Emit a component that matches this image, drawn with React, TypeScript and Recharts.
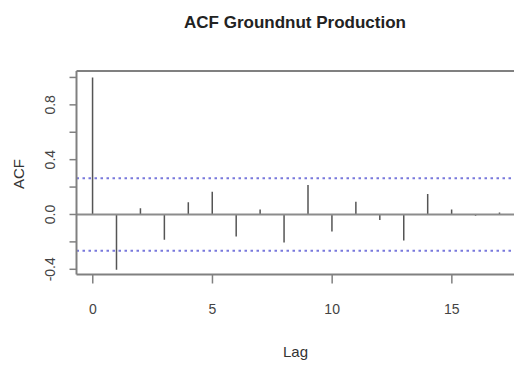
import React from "react";
import { ComposedChart, Bar, XAxis, YAxis, ReferenceLine } from "recharts";

const lags = [0, 1, 2, 3, 4, 5, 6, 7, 8, 9, 10, 11, 12, 13, 14, 15, 16, 17];
const acfValues = [1.0, -0.404, 0.045, -0.185, 0.089, 0.165, -0.161, 0.036, -0.205, 0.215, -0.125, 0.093, -0.04, -0.19, 0.149, 0.036, -0.01, 0.015];
const ciBound = 0.265;
const xTicks = [0, 5, 10, 15];
const yTicks = [-0.4, -0.2, 0, 0.2, 0.4, 0.6, 0.8, 1.0];
const yLabelTicks = [-0.4, 0, 0.4, 0.8];
const xDomain = [-0.68, 17.68];
const yDomain = [-0.438, 1.047];

const data = lags.map((lag, i) => ({ lag, acf: acfValues[i] }));

const FONT = '"Liberation Sans", Arial, Helvetica, sans-serif';
const BORDER = "#808080";

const YTick = (props: any) => {
  const { y, payload } = props;
  const v = payload.value;
  const show = yLabelTicks.some((t) => Math.abs(t - v) < 1e-6);
  if (!show) return <g />;
  const x = 50;
  return (
    <text
      x={x}
      y={y}
      transform={`rotate(-90, ${x}, ${y})`}
      textAnchor="middle"
      dominantBaseline="central"
      fontFamily={FONT}
      fontSize={14}
      fill="#444"
    >
      {v.toFixed(1)}
    </text>
  );
};

const XTick = (props: any) => {
  const { x, payload } = props;
  return (
    <text
      x={x}
      y={309}
      textAnchor="middle"
      dominantBaseline="central"
      fontFamily={FONT}
      fontSize={14}
      fill="#444"
    >
      {payload.value}
    </text>
  );
};

export default function App() {
  return (
    <div
      style={{
        position: "absolute",
        left: 0,
        top: 0,
        width: 514,
        height: 367,
        overflow: "hidden",
        background: "#fff",
        fontFamily: FONT,
      }}
    >
      <ComposedChart
        width={516}
        height={367}
        data={data}
        margin={{ top: 71, right: 0, bottom: 52.5, left: 0 }}
      >
        <XAxis
          dataKey="lag"
          type="number"
          domain={xDomain}
          ticks={xTicks}
          interval={0}
          allowDataOverflow
          tickSize={9}
          height={40}
          stroke={BORDER}
          axisLine={{ stroke: BORDER, strokeWidth: 2 }}
          tickLine={{ stroke: BORDER, strokeWidth: 1.5 }}
          tick={<XTick />}
        />
        <YAxis
          type="number"
          domain={yDomain}
          ticks={yTicks}
          interval={0}
          allowDataOverflow
          width={76.5}
          tickSize={7}
          stroke={BORDER}
          axisLine={{ stroke: BORDER, strokeWidth: 2 }}
          tickLine={{ stroke: BORDER, strokeWidth: 1.5 }}
          tick={<YTick />}
        />
        <ReferenceLine y={yDomain[1]} stroke={BORDER} strokeWidth={2} />
        <ReferenceLine y={0} stroke="#8c8c8c" strokeWidth={2} />
        <ReferenceLine y={ciBound} stroke="#7878dc" strokeWidth={2} strokeDasharray="2.5 3.5" />
        <ReferenceLine y={-ciBound} stroke="#7878dc" strokeWidth={2} strokeDasharray="2.5 3.5" />
        <Bar dataKey="acf" barSize={1.5} fill="#555" isAnimationActive={false} />
      </ComposedChart>
      <div
        style={{
          position: "absolute",
          left: 95,
          width: 400,
          top: 12,
          textAlign: "center",
          fontWeight: "bold",
          fontSize: 17,
          lineHeight: "21px",
          color: "#222",
        }}
      >
        ACF Groundnut Production
      </div>
      <div
        style={{
          position: "absolute",
          left: 195.5,
          width: 200,
          top: 342,
          textAlign: "center",
          fontSize: 15,
          lineHeight: "20px",
          color: "#333",
        }}
      >
        Lag
      </div>
      <div
        style={{
          position: "absolute",
          left: 19,
          top: 173.5,
          transform: "translate(-50%, -50%) rotate(-90deg)",
          fontSize: 15,
          lineHeight: "20px",
          whiteSpace: "nowrap",
          color: "#333",
        }}
      >
        ACF
      </div>
    </div>
  );
}
